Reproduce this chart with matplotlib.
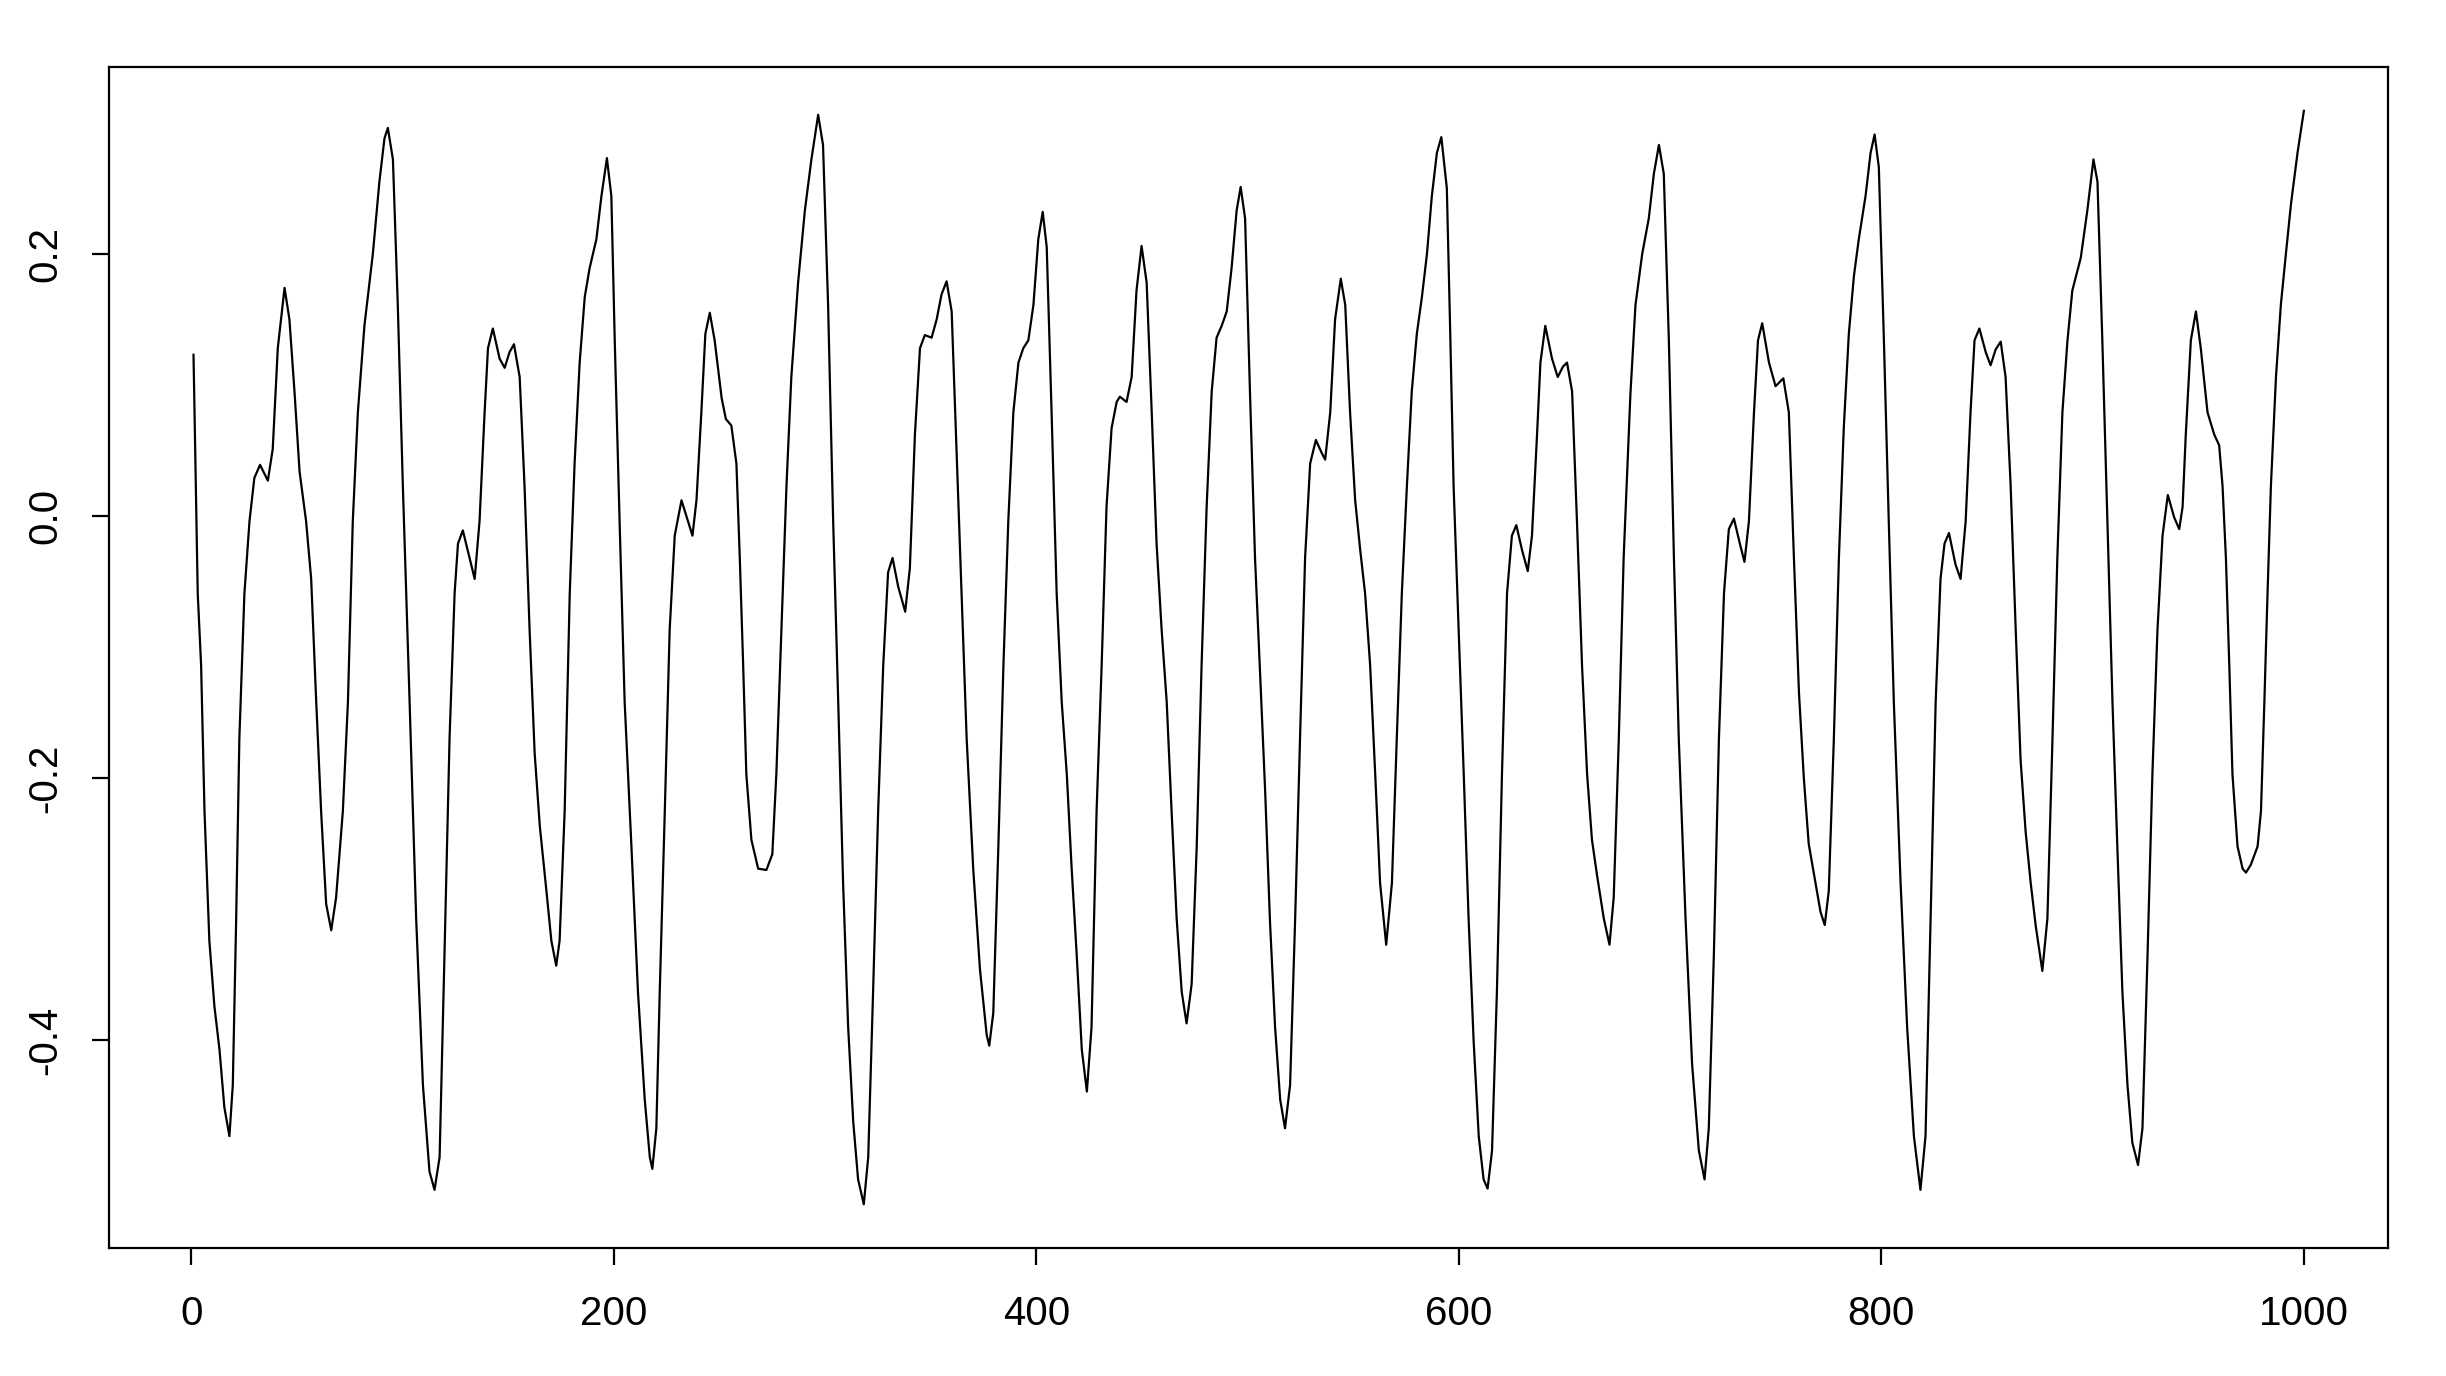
import matplotlib
matplotlib.use('Agg')
import matplotlib.pyplot as plt

# points (index, value)
t = [1, 3, 4.6, 6.2, 8.5, 10.9, 13.3, 15.6, 18, 19.6, 21.2, 22.7, 25.1, 27.5,
     29.8, 32.5, 36.2, 38.5, 40.9, 44.1, 46.4, 48.8, 51.2, 54.3, 56.7, 59.1,
     61.4, 63.8, 66.2, 68.5, 71.7, 74.1, 76.4, 78.8,
     81.9, 85.9, 89.0, 91.4, 93.0, 95.4, 97.7, 100.1, 103.3, 106.4, 109.6,
     112.7, 115.1, 117.5, 119.8, 122.2, 124.6, 126.2, 128.5, 131.7, 134.1,
     136.4, 138.8, 140.4, 142.7, 145.9, 148.3, 150.6, 152.7, 155.4, 157.7,
     160.1, 162.5, 164.9,
     168.0, 170.4, 172.7, 174.3, 176.7, 179.1, 181.4, 183.8, 186.2, 188.5,
     191.7, 194.1, 196.7, 198.8, 200.4, 202.7, 205.1, 208.3, 211.4, 214.6,
     217.0, 218.2, 220.1, 221.7, 224.1, 226.4, 228.8, 232.0, 235.1, 237.2,
     239.1, 241.4, 243.3, 245.4, 247.7, 251.0,
     253.0, 255.6, 258.0, 259.6, 261.2, 262.7, 265.1, 268.3, 272.2, 275.0,
     276.9, 279.3, 281.7, 284.0, 287.2, 290.4, 293.5, 296.7, 299.0, 301.4,
     303.8, 306.2, 308.5, 310.9, 313.3, 315.6, 318.3, 320.4, 322.7, 325.1,
     327.5, 329.8, 331.9, 334.6, 337.9,
     340.1, 342.5, 344.9, 347.2, 350.4, 352.8, 355.1, 357.5, 359.9, 362.2,
     364.6, 367.0, 370.1, 373.3, 376.5, 377.7, 379.6, 382.0, 384.4, 386.7,
     389.1, 391.5, 393.8, 396.2, 398.6, 400.9, 403.0, 404.9, 407.2, 409.6,
     412.0, 414.4, 416.7, 419.1, 421.5, 423.9,
     426.1, 428.5, 430.9, 433.2, 435.6, 438.0, 439.5, 442.7, 445.1, 447.4,
     449.8, 452.2, 454.6, 456.9, 459.3, 461.7, 464.0, 466.4, 468.8, 471.1,
     473.5, 475.9, 478.2, 480.6, 483.0, 485.3, 487.7, 490.1, 492.4, 494.8,
     496.7, 498.8, 501.1, 503.5,
     505.9, 508.3, 510.6, 513.0, 515.4, 517.7, 520.1, 522.5, 524.8, 527.2,
     529.6, 532.3, 535.1, 536.7, 539.1, 541.4, 544.1, 546.2, 548.5, 550.9,
     553.3, 555.6, 558.0, 560.4, 562.7, 565.6, 568.3, 570.6, 573.0, 575.4,
     577.7, 580.1, 582.5, 584.9, 587.2, 589.6, 591.7,
     594.3, 595.9, 597.5, 599.9, 602.3, 604.6, 607.0, 609.4, 611.7, 613.6,
     615.7, 618.0, 620.4, 622.8, 625.1, 627.2, 629.9, 632.6, 634.6, 637.0,
     638.6, 640.9, 644.1, 646.8, 649.3, 651.2, 653.6, 655.9, 658.3, 660.7,
     663.0, 665.4, 668.6, 671.3, 673.3, 675.7, 678.0,
     681.2, 683.6, 686.8, 689.9, 692.3, 694.7, 697.0, 699.4, 701.8, 704.1,
     707.3, 710.4, 713.6, 716.3, 718.3, 720.7, 723.1, 725.5, 727.8, 730.2,
     733.0, 735.2, 737.3, 739.7, 741.6, 743.6, 746.8, 749.9, 753.6, 756.2,
     758.6, 761.0, 763.3,
     765.6, 768.8, 771.2, 773.2, 775.1, 777.5, 779.9, 782.2, 784.6, 787.0,
     789.3, 792.5, 794.9, 796.8, 798.8, 801.2, 803.5, 805.9, 809.1, 812.2,
     815.4, 818.5, 820.9, 823.3, 825.7, 828.0, 829.9, 832.0, 835.1, 837.5,
     839.9, 842.2, 844.1, 846.4,
     849.4, 851.7, 854.1, 856.5, 858.8, 861.2, 863.6, 865.9, 868.3, 870.7,
     873.1, 876.2, 878.6, 881.0, 883.3, 885.7, 888.1, 890.4, 894.4, 897.5,
     900.4, 902.3, 904.6, 907.0, 909.4, 911.7, 914.1, 916.5, 918.8, 921.5,
     923.6, 926.0, 928.3, 930.7, 933.1,
     935.6, 938.6, 941.0, 942.6, 944.1, 946.5, 948.9, 951.2, 954.4, 957.6,
     959.9, 961.5, 963.1, 964.7, 966.2, 968.6, 971.0, 972.6, 974.9, 978.1,
     979.7, 981.3, 982.8, 984.4, 986.8, 989.1, 991.5, 993.9, 997.0, 1000]

value = [0.123, -0.059, -0.114, -0.225, -0.324, -0.374, -0.407, -0.451, -0.473,
         -0.434, -0.307, -0.170, -0.059, -0.004, 0.029, 0.039, 0.027, 0.051,
         0.128, 0.174, 0.150, 0.095, 0.034, -0.004, -0.048, -0.142, -0.225,
         -0.296, -0.316, -0.291, -0.225, -0.142, -0.004, 0.079,
         0.145, 0.200, 0.255, 0.288, 0.296, 0.272, 0.161, 0.023, -0.142,
         -0.307, -0.434, -0.500, -0.514, -0.489, -0.335, -0.170, -0.059,
         -0.021, -0.011, -0.032, -0.048, -0.004, 0.079, 0.128, 0.143, 0.120,
         0.113, 0.125, 0.131, 0.106, 0.023, -0.087, -0.181, -0.236,
         -0.285, -0.324, -0.343, -0.324, -0.225, -0.059, 0.040, 0.117, 0.167,
         0.189, 0.211, 0.244, 0.273, 0.244, 0.134, -0.004, -0.142, -0.252,
         -0.363, -0.445, -0.489, -0.498, -0.467, -0.363, -0.225, -0.087,
         -0.015, 0.012, -0.004, -0.015, 0.012, 0.079, 0.139, 0.155, 0.134,
         0.090,
         0.074, 0.069, 0.040, -0.032, -0.114, -0.197, -0.247, -0.269, -0.270,
         -0.258, -0.197, -0.087, 0.023, 0.106, 0.178, 0.233, 0.272, 0.306,
         0.283, 0.161, -0.004, -0.142, -0.280, -0.390, -0.462, -0.506, -0.525,
         -0.489, -0.363, -0.225, -0.114, -0.043, -0.032, -0.054, -0.073,
         -0.040, 0.062, 0.128, 0.138, 0.136, 0.150, 0.169, 0.179, 0.156,
         0.051, -0.059, -0.170, -0.269, -0.346, -0.396, -0.404, -0.379,
         -0.252, -0.114, -0.004, 0.079, 0.117, 0.128, 0.134, 0.161, 0.211,
         0.232, 0.205, 0.079, -0.059, -0.142, -0.197, -0.269, -0.335, -0.407,
         -0.439,
         -0.390, -0.225, -0.114, 0.007, 0.067, 0.087, 0.091, 0.087, 0.106,
         0.172, 0.206, 0.178, 0.079, -0.021, -0.087, -0.142, -0.225, -0.307,
         -0.363, -0.387, -0.357, -0.252, -0.114, 0.007, 0.095, 0.136, 0.145,
         0.156, 0.189, 0.233, 0.251, 0.227, 0.095, -0.032,
         -0.120, -0.210, -0.310, -0.390, -0.445, -0.467, -0.434, -0.307,
         -0.170, -0.032, 0.040, 0.058, 0.048, 0.043, 0.079, 0.150, 0.181,
         0.161, 0.079, 0.012, -0.026, -0.059, -0.114, -0.197, -0.280, -0.327,
         -0.280, -0.170, -0.059, 0.023, 0.095, 0.139, 0.167, 0.200, 0.244,
         0.277, 0.289,
         0.250, 0.140, 0.023, -0.087, -0.197, -0.307, -0.401, -0.473, -0.506,
         -0.513, -0.484, -0.363, -0.197, -0.059, -0.015, -0.007, -0.026,
         -0.042, -0.015, 0.062, 0.117, 0.145, 0.120, 0.106, 0.114, 0.117,
         0.095, -0.004, -0.114, -0.197, -0.247, -0.274, -0.307, -0.327,
         -0.291, -0.170, -0.032,
         0.093, 0.161, 0.200, 0.227, 0.261, 0.283, 0.261, 0.134, -0.032,
         -0.170, -0.307, -0.418, -0.484, -0.506, -0.467, -0.335, -0.170,
         -0.059, -0.010, -0.002, -0.021, -0.035, -0.004, 0.079, 0.134, 0.147,
         0.117, 0.099, 0.105, 0.079, -0.032, -0.135, -0.200,
         -0.250, -0.280, -0.302, -0.312, -0.286, -0.170, -0.032, 0.067, 0.139,
         0.183, 0.211, 0.244, 0.277, 0.291, 0.266, 0.134, -0.004, -0.142,
         -0.280, -0.390, -0.473, -0.514, -0.473, -0.307, -0.142, -0.048,
         -0.021, -0.013, -0.037, -0.048, -0.004, 0.079, 0.134, 0.143,
         0.125, 0.115, 0.127, 0.133, 0.106, 0.023, -0.087, -0.186, -0.241,
         -0.280, -0.313, -0.347, -0.307, -0.170, -0.032, 0.079, 0.134, 0.172,
         0.197, 0.233, 0.272, 0.255, 0.134, -0.004, -0.142, -0.252, -0.363,
         -0.434, -0.478, -0.495, -0.467, -0.335, -0.197, -0.087, -0.015,
         0.016, -0.001, -0.010, 0.007, 0.062, 0.134, 0.156, 0.128, 0.079,
         0.062, 0.054, 0.023, -0.032, -0.114, -0.197, -0.252, -0.269, -0.272,
         -0.266, -0.252, -0.225, -0.142, -0.059, 0.023, 0.106, 0.161, 0.200,
         0.238, 0.277, 0.309]

x_ticks = [0, 200, 400, 600, 800, 1000]
y_ticks = [-0.4, -0.2, 0.0, 0.2]
y_labels = ['-0.4', '-0.2', '0.0', '0.2']

plt.rcParams['font.family'] = ['Liberation Sans', 'DejaVu Sans']

fig = plt.figure(figsize=(24.46, 13.76), dpi=100)
ax = fig.add_axes([0.0446, 0.093, 0.9318, 0.8582])
ax.plot(t, value, color='black', lw=1.6)
ax.margins(x=0.04, y=0.04)

ax.set_xticks(x_ticks)
ax.set_xticklabels([str(v) for v in x_ticks])
ax.set_yticks(y_ticks)
ax.set_yticklabels(y_labels, rotation=90, va='center')
ax.tick_params(direction='out', length=12, width=1.6, labelsize=29,
               color='black')
ax.tick_params(axis='x', pad=22)
ax.tick_params(axis='y', pad=20)
for sp in ax.spines.values():
    sp.set_linewidth(1.6)

fig.savefig('out.png', dpi=100)
